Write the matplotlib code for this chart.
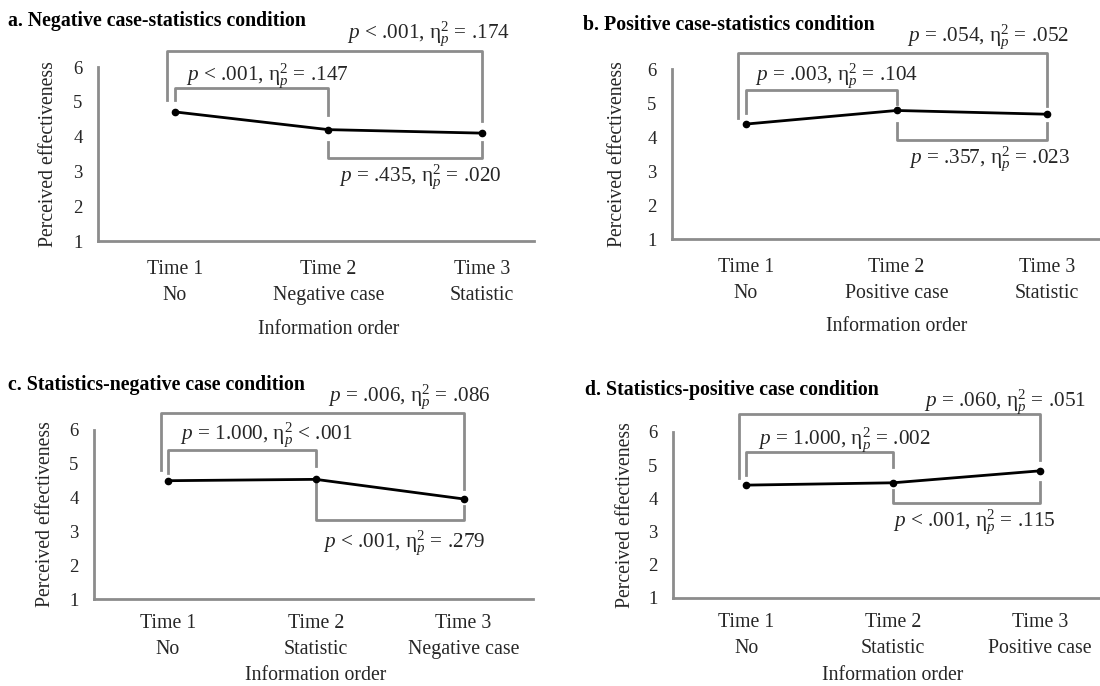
import matplotlib.pyplot as plt
from matplotlib.transforms import blended_transform_factory

plt.rcParams['font.family'] = ['Liberation Serif', 'DejaVu Serif']
plt.rcParams['mathtext.fontset'] = 'custom'
plt.rcParams['mathtext.rm'] = 'Liberation Serif'
plt.rcParams['mathtext.it'] = 'Liberation Serif:italic'
plt.rcParams['mathtext.bf'] = 'Liberation Serif:bold'

# data
times = ['Time 1', 'Time 2', 'Time 3']
order_a = ['No', 'Negative case', 'Statistic']
order_b = ['No', 'Positive case', 'Statistic']
order_c = ['No', 'Statistic', 'Negative case']
order_d = ['No', 'Statistic', 'Positive case']

means_a = [4.71, 4.20, 4.10]
means_b = [4.38, 4.78, 4.67]
means_c = [4.50, 4.54, 3.96]
means_d = [4.40, 4.47, 4.83]

titles = ['a. Negative case-statistics condition',
          'b. Positive case-statistics condition',
          'c. Statistics-negative case condition',
          'd. Statistics-positive case condition']

# comparison labels: (Time1 vs Time3, Time1 vs Time2, Time2 vs Time3)
stats_a = [r'$p$ < .001, η$^{2}_{p}$ = .174', r'$p$ < .001, η$^{2}_{p}$ = .147', r'$p$ = .435, η$^{2}_{p}$ = .020']
stats_b = [r'$p$ = .054, η$^{2}_{p}$ = .052', r'$p$ = .003, η$^{2}_{p}$ = .104', r'$p$ = .357, η$^{2}_{p}$ = .023']
stats_c = [r'$p$ = .006, η$^{2}_{p}$ = .086', r'$p$ = 1.000, η$^{2}_{p}$ < .001', r'$p$ < .001, η$^{2}_{p}$ = .279']
stats_d = [r'$p$ = .060, η$^{2}_{p}$ = .051', r'$p$ = 1.000, η$^{2}_{p}$ = .002', r'$p$ < .001, η$^{2}_{p}$ = .115']

# bracket geometry in data units: [bar y, left leg end, right leg end]
big_a, small_a, low_a = [6.47, 5.05, 4.46], [5.39, 5.04, 4.61], [3.38, 3.84, 3.84]
big_b, small_b, low_b = [6.48, 4.57, 4.91], [5.37, 4.70, 4.98], [3.92, 4.40, 4.40]
big_c, small_c, low_c = [6.50, 4.82, 4.24], [5.40, 4.72, 4.93], [3.33, 4.46, 3.75]
big_d, small_d, low_d = [6.53, 4.61, 5.16], [5.39, 4.71, 4.96], [3.86, 4.26, 4.48]

# label anchors (x left, y centre) in data units
lab_a = [(1.12, 6.96), (0.07, 5.76), (1.07, 2.84)]
lab_b = [(1.07, 6.95), (0.06, 5.80), (1.08, 3.37)]
lab_c = [(1.08, 7.00), (0.08, 5.85), (1.05, 2.68)]
lab_d = [(1.21, 6.92), (0.08, 5.77), (1.00, 3.29)]

W, H = 1100, 686
fig = plt.figure(figsize=(W / 100, H / 100), dpi=100)

GRAY = '#8c8c8c'
TXT = '#262626'

panels = [
    # axes px: left, right, bottom, top ; xlim ; title px ; ylabel x px ; xlabel y px
    dict(px=(98, 534, 241, 67), xlim=(-0.5, 2.34), tpos=(8, 21), ylx=49, xly=330, xpad=14,
         order=order_a, means=means_a, stats=stats_a, br=(big_a, small_a, low_a), lab=lab_a),
    dict(px=(672, 1100, 239, 69), xlim=(-0.49, 2.35), tpos=(583, 25), ylx=617, xly=326, xpad=14,
         order=order_b, means=means_b, stats=stats_b, br=(big_b, small_b, low_b), lab=lab_b),
    dict(px=(94, 533, 599, 430), xlim=(-0.5, 2.47), tpos=(8, 385), ylx=46, xly=676, xpad=11,
         order=order_c, means=means_c, stats=stats_c, br=(big_c, small_c, low_c), lab=lab_c),
    dict(px=(673, 1100, 598, 432), xlim=(-0.5, 2.41), tpos=(585, 390), ylx=625, xly=676, xpad=11,
         order=order_d, means=means_d, stats=stats_d, br=(big_d, small_d, low_d), lab=lab_d),
]

for i, p in enumerate(panels):
    l, r, b, t = p['px']
    ax = fig.add_axes([l / W, 1 - b / H, (r - l) / W, (b - t) / H])
    x = list(range(len(times)))
    ax.plot(x, p['means'], color='black', lw=2, marker='o', ms=4.5, zorder=3, clip_on=False)
    ax.set_xlim(*p['xlim'])
    ax.set_ylim(1, 6)
    ax.set_yticks([1, 2, 3, 4, 5, 6])
    ax.set_xticks(x)
    ax.set_xticklabels([f'{tm}\n{o}' for tm, o in zip(times, p['order'])], linespacing=1.5)
    ax.tick_params(axis='both', length=0, colors=TXT, labelsize=14.3)
    ax.tick_params(axis='y', pad=11, labelsize=13.5)
    ax.tick_params(axis='x', pad=p['xpad'])
    for s in ['top', 'right']:
        ax.spines[s].set_visible(False)
    for s in ['left', 'bottom']:
        ax.spines[s].set_color(GRAY)
        ax.spines[s].set_linewidth(2)

    big, small, low = p['br']
    # Time 1 vs Time 3
    ax.plot([-0.05, -0.05, 2, 2], [big[1], big[0], big[0], big[2]], color=GRAY, lw=2, clip_on=False)
    # Time 1 vs Time 2
    ax.plot([0, 0, 1, 1], [small[1], small[0], small[0], small[2]], color=GRAY, lw=2, clip_on=False)
    # Time 2 vs Time 3
    ax.plot([1, 1, 2, 2], [low[1], low[0], low[0], low[2]], color=GRAY, lw=2, clip_on=False)

    for (lx, ly), s in zip(p['lab'], p['stats']):
        ax.text(lx, ly, s, fontsize=15.3, color=TXT, ha='left', va='center', clip_on=False)

    fig.text(p['tpos'][0] / W, 1 - p['tpos'][1] / H, titles[i], fontsize=14.3, fontweight='bold',
             color='black', ha='left', va='center')
    fig.text(p['ylx'] / W, 1 - ((b + t) / 2) / H, 'Perceived effectiveness', rotation=90,
             fontsize=14.2, color=TXT, ha='center', va='center')
    tr = blended_transform_factory(ax.transData, fig.transFigure)
    ax.text(1, 1 - p['xly'] / H, 'Information order', transform=tr, fontsize=14.2,
            color=TXT, ha='center', va='center')

fig.savefig('out.png', dpi=100, facecolor='white')
